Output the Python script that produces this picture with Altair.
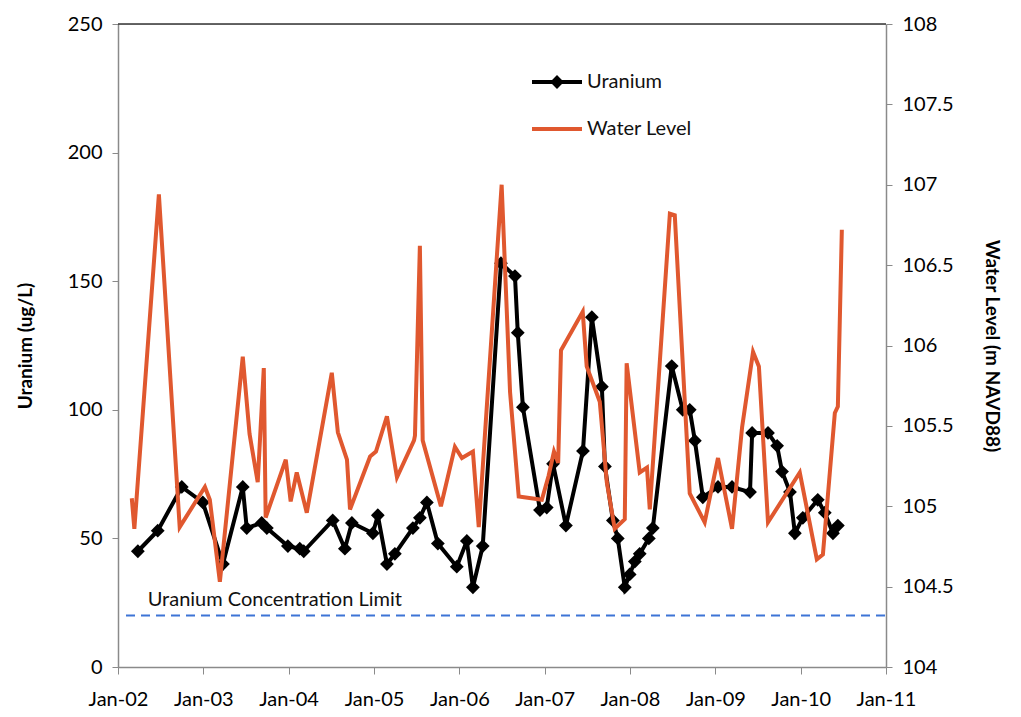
import altair as alt
import pandas as pd

# ---------------- data ----------------
u_dates = ["2002-03-27", "2002-06-20", "2002-10-01", "2002-12-30", "2003-03-26",
           "2003-06-19", "2003-07-06", "2003-09-08", "2003-09-30", "2003-12-29",
           "2004-02-18", "2004-03-06", "2004-07-08", "2004-08-29", "2004-09-28",
           "2004-12-27", "2005-01-17", "2005-02-25", "2005-03-31", "2005-06-16",
           "2005-07-16", "2005-08-15", "2005-10-01", "2005-12-21", "2006-02-02",
           "2006-02-28", "2006-04-11", "2006-06-28", "2006-08-27", "2006-09-08",
           "2006-09-30", "2006-12-12", "2007-01-10", "2007-02-06", "2007-04-02",
           "2007-06-14", "2007-07-22", "2007-09-03", "2007-09-16", "2007-10-20",
           "2007-11-10", "2007-12-10", "2007-12-31", "2008-01-22", "2008-02-12",
           "2008-03-22", "2008-04-08", "2008-06-28", "2008-08-14", "2008-09-13",
           "2008-10-05", "2008-11-08", "2009-01-12", "2009-03-13", "2009-05-29",
           "2009-06-07", "2009-08-14", "2009-09-22", "2009-10-13", "2009-11-16",
           "2009-12-07", "2010-01-10", "2010-03-15", "2010-04-14", "2010-05-19",
           "2010-06-09"]
u_vals = [45, 53, 70, 64, 40,
          70, 54, 56, 54, 47,
          46, 45, 57, 46, 56,
          52, 59, 40, 44, 54,
          58, 64, 48, 39, 49,
          31, 47, 157, 152, 130,
          101, 61, 62, 79, 55,
          84, 136, 109, 78, 57,
          50, 31, 36, 41, 44,
          50, 54, 117, 100, 100,
          88, 66, 70, 70, 68,
          91, 91, 86, 76, 68,
          52, 58, 65, 60, 52,
          55]

w_dates = ["2002-03-01", "2002-03-12", "2002-06-25", "2002-09-22", "2003-01-08",
           "2003-01-29", "2003-03-13", "2003-06-19", "2003-07-18", "2003-08-22",
           "2003-09-17", "2003-09-25", "2003-12-20", "2004-01-10", "2004-02-05",
           "2004-03-19", "2004-07-04", "2004-07-30", "2004-09-07", "2004-09-20",
           "2004-12-15", "2005-01-09", "2005-02-25", "2005-04-09", "2005-06-21",
           "2005-06-25", "2005-07-16", "2005-07-28", "2005-10-14", "2005-12-13",
           "2006-01-12", "2006-02-28", "2006-03-25", "2006-07-01", "2006-08-06",
           "2006-09-12", "2006-12-20", "2007-01-18", "2007-02-10", "2007-02-28",
           "2007-03-12", "2007-06-13", "2007-06-30", "2007-08-25", "2007-09-24",
           "2007-10-28", "2007-12-10", "2007-12-18", "2008-02-12", "2008-03-14",
           "2008-03-26", "2008-06-20", "2008-07-11", "2008-09-13", "2008-11-16",
           "2009-01-12", "2009-02-11", "2009-03-13", "2009-04-25", "2009-06-11",
           "2009-07-06", "2009-08-14", "2009-12-28", "2010-03-11", "2010-04-06",
           "2010-05-27", "2010-06-09", "2010-06-26"]
w_vals = [105.05, 104.86, 106.94, 104.87, 105.12,
          105.04, 104.53, 105.93, 105.45, 105.15,
          105.86, 104.93, 105.29, 105.03, 105.21,
          104.96, 105.83, 105.46, 105.29, 104.98,
          105.31, 105.34, 105.56, 105.18, 105.41,
          105.44, 106.62, 105.41, 105.00, 105.37,
          105.30, 105.34, 104.87, 107.00, 105.71,
          105.06, 105.04, 105.19, 105.34, 105.27,
          105.97, 106.21, 105.87, 105.65, 105.15,
          104.86, 104.92, 105.89, 105.21, 105.24,
          104.98, 106.82, 106.81, 105.08, 104.90,
          105.30, 105.08, 104.86, 105.49, 105.96,
          105.87, 104.90, 105.21, 104.67, 104.70,
          105.58, 105.62, 106.72]

limit_value = 20
limit_label = "Uranium Concentration Limit"
limit_label_date = "2002-05-08"
limit_label_value = 26

legend_labels = ["Uranium", "Water Level"]
x_ticks = [f"{y}-01-01" for y in range(2002, 2012)]
left_ticks = [0, 50, 100, 150, 200, 250]
right_ticks = [104, 104.5, 105, 105.5, 106, 106.5, 107, 107.5, 108]

# ---------------- styles ----------------
FONT = "Lato"
RED = "#E0582F"
BLUE = "#3D74D6"
AXIS_GRAY = "#8a8a8a"
W, H = 768, 643

df_u = pd.DataFrame({"date": u_dates, "uranium": u_vals})
df_w = pd.DataFrame({"date": w_dates, "level": w_vals})
df_lim = pd.DataFrame({"uranium": [limit_value]})
df_lab = pd.DataFrame({"date": [limit_label_date], "uranium": [limit_label_value],
                       "label": [limit_label]})
df_leg_u = pd.DataFrame({"label": [legend_labels[0]]})
df_leg_w = pd.DataFrame({"label": [legend_labels[1]]})
df_one = pd.DataFrame({"k": [0]})

x_scale = alt.Scale(type="utc", domain=[x_ticks[0], x_ticks[-1]])
x_axis = alt.Axis(values=x_ticks, labelExpr="utcFormat(datum.value, '%b-%y')",
                  title=None, labelOverlap=False, labelFlush=False, labelBound=False,
                  labelFontSize=20, labelPadding=15, tickSize=7, grid=False,
                  domainColor=AXIS_GRAY, tickColor=AXIS_GRAY, domainWidth=1.5,
                  labelColor="black", labelFont=FONT)

u_scale = alt.Scale(domain=[0, 250], nice=False)
left_axis = alt.Axis(values=left_ticks, title="Uranium (ug/L)", titleFontSize=19,
                     titleFontWeight="bold", titleFont=FONT, titlePadding=32,
                     labelFontSize=20, labelPadding=10, tickSize=6, grid=False,
                     labelOverlap=False,
                     domainColor=AXIS_GRAY, tickColor=AXIS_GRAY, domainWidth=1.5,
                     labelColor="black", labelFont=FONT)

X = alt.X("date:T", scale=x_scale, axis=x_axis)
Yu = alt.Y("uranium:Q", scale=u_scale, axis=left_axis)

u_line = alt.Chart(df_u).mark_line(color="black", strokeWidth=4).encode(x=X, y=Yu)
u_pts = alt.Chart(df_u).mark_point(shape="diamond", filled=True, size=190,
                                   color="black", opacity=1).encode(x=X, y=Yu)

lim_rule = alt.Chart(df_lim).mark_rule(color=BLUE, strokeWidth=2,
                                       strokeDash=[9, 6]).encode(
    y=Yu, x=alt.value(8), x2=alt.value(W - 1))
lim_text = alt.Chart(df_lab).mark_text(align="left", baseline="middle", fontSize=20,
                                       font=FONT, color="#111").encode(
    x=X, y=Yu, text="label:N")

top_rule = alt.Chart(df_one).mark_rule(color="#333", strokeWidth=1.5).encode(
    x=alt.value(0), x2=alt.value(W), y=alt.value(0))

# legend
leg_u_line = alt.Chart(df_one).mark_rule(color="black", strokeWidth=4).encode(
    x=alt.value(414), x2=alt.value(464), y=alt.value(58))
leg_u_pt = alt.Chart(df_one).mark_point(shape="diamond", filled=True, size=190,
                                        color="black", opacity=1).encode(
    x=alt.value(439), y=alt.value(58))
leg_w_line = alt.Chart(df_one).mark_rule(color=RED, strokeWidth=4).encode(
    x=alt.value(414), x2=alt.value(464), y=alt.value(105))
leg_u_text = alt.Chart(df_leg_u).mark_text(align="left", baseline="middle", fontSize=20,
                                           font=FONT, color="#111").encode(
    x=alt.value(469), y=alt.value(58), text="label:N")
leg_w_text = alt.Chart(df_leg_w).mark_text(align="left", baseline="middle", fontSize=20,
                                           font=FONT, color="#111").encode(
    x=alt.value(469), y=alt.value(105), text="label:N")

left_group = alt.layer(u_line, u_pts, lim_rule, lim_text, top_rule,
                       leg_u_line, leg_u_pt, leg_w_line, leg_u_text, leg_w_text)

right_axis = alt.Axis(values=right_ticks, format="~g", orient="right",
                      title="Water Level (m NAVD88)", titleFontSize=19,
                      titleFontWeight="bold", titleFont=FONT, titlePadding=28,
                      labelFontSize=20, labelPadding=10, tickSize=6, grid=False,
                      labelOverlap=False,
                      domainColor=AXIS_GRAY, tickColor=AXIS_GRAY, domainWidth=1.5,
                      labelColor="black", labelFont=FONT)

w_line = alt.Chart(df_w).mark_line(color=RED, strokeWidth=4).encode(
    x=X, y=alt.Y("level:Q", scale=alt.Scale(domain=[104, 108], nice=False),
                  axis=right_axis))

chart = alt.layer(left_group, w_line).resolve_scale(y="independent").properties(
    width=W, height=H,
    autosize=alt.AutoSizeParams(type="none"),
    padding={"left": 110, "top": 16, "right": 119, "bottom": 45},
).configure_view(stroke=None).configure(background="white")

chart.save("out.html", embed_options={"renderer": "svg", "actions": False})
